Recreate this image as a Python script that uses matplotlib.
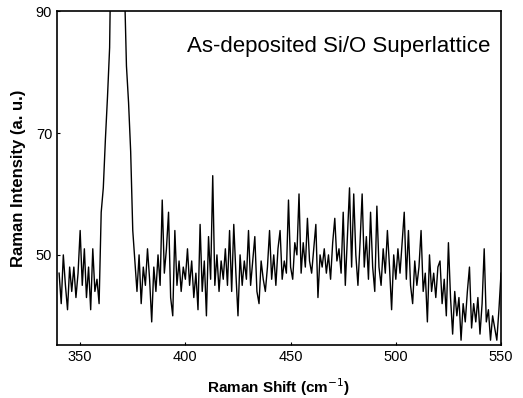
import numpy as np
import matplotlib
matplotlib.use('Agg')
import matplotlib.pyplot as plt

plt.rcParams['font.family'] = ['Liberation Sans', 'DejaVu Sans']

# Raman shift (cm^-1), 1 cm^-1 step
shift_start = 340
intensity = [
    47, 42, 50, 45, 41, 48, 44, 48, 43, 47,   # 340-349
    54, 45, 51, 43, 48, 41, 51, 44, 46, 42,   # 350-359
    57, 61, 69, 76, 84, 110, 125, 130, 130, 125,  # 360-369
    115, 95, 81, 75, 67, 54, 49, 44, 50, 42,  # 370-379
    48, 45, 51, 46, 39, 48, 44, 50, 45, 59,   # 380-389
    47, 51, 57, 43, 40, 54, 45, 49, 44, 48,   # 390-399
    46, 51, 45, 49, 43, 47, 41, 55, 44, 49,   # 400-409
    40, 53, 46, 63, 45, 50, 44, 49, 46, 51,   # 410-419
    45, 54, 44, 55, 47, 40, 50, 45, 49, 46,   # 420-429
    54, 45, 49, 53, 44, 42, 49, 46, 44, 48,   # 430-439
    54, 46, 50, 45, 51, 54, 46, 49, 47, 59,   # 440-449
    48, 46, 52, 50, 60, 47, 52, 48, 56, 49,   # 450-459
    47, 51, 55, 43, 50, 48, 51, 47, 50, 46,   # 460-469
    52, 56, 49, 51, 47, 57, 45, 53, 61, 48,   # 470-479
    60, 50, 45, 52, 60, 48, 53, 46, 57, 48,   # 480-489
    44, 58, 48, 45, 51, 47, 54, 48, 41, 50,   # 490-499
    46, 51, 47, 52, 57, 46, 54, 45, 42, 49,   # 500-509
    45, 48, 54, 44, 47, 39, 50, 44, 47, 43,   # 510-519
    48, 49, 42, 46, 40, 52, 43, 37, 44, 40,   # 520-529
    43, 36, 42, 39, 44, 48, 38, 42, 39, 43,   # 530-539
    37, 42, 51, 39, 41, 36, 40, 38, 36, 41,   # 540-549
    47,                                       # 550
]
shift = shift_start + np.arange(len(intensity))

fig = plt.figure(figsize=(5.23, 3.98), dpi=100)
ax = fig.add_axes([0.109, 0.133, 0.849, 0.839])

ax.plot(shift, intensity, color='black', linewidth=1.0)

ax.set_xlim(339, 550)
ax.set_ylim(35.2, 90)
ax.set_xticks([350, 400, 450, 500, 550])
ax.set_yticks([50, 70, 90])
ax.tick_params(direction='in', length=2, labelsize=10.5)
for s in ax.spines.values():
    s.set_linewidth(1.2)

ax.set_xlabel('Raman Shift (cm$^{-1}$)', fontsize=11, fontweight='bold', labelpad=9)
ax.set_ylabel('Raman Intensity (a. u.)', fontsize=12, fontweight='bold', labelpad=7)
ax.text(0.975, 0.895, 'As-deposited Si/O Superlattice', transform=ax.transAxes,
        ha='right', va='center', fontsize=16)

fig.savefig('out.png', dpi=100)
